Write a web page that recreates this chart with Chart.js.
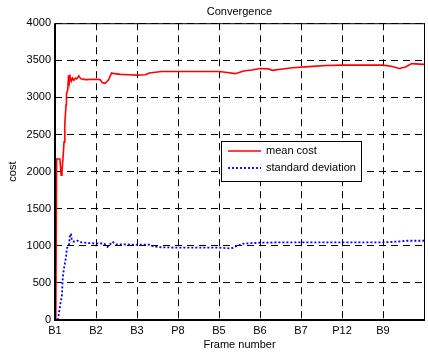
<!DOCTYPE html>
<html>
<head>
<meta charset="utf-8">
<script src="https://cdn.jsdelivr.net/npm/chart.js@4/dist/chart.umd.min.js"></script>
<style>
  html, body { margin: 0; padding: 0; background: #fff; }
  #wrap { width: 428px; height: 354px; }
</style>
</head>
<body>
<div id="wrap"><canvas id="conv"></canvas></div>
<script>
// frame tick labels (one per frame position 0..8)
const frameLabels = ["B1", "B2", "B3", "P8", "B5", "B6", "B7", "P12", "B9"];

// mean cost series
const meanX = [0.02, 0.04, 0.12, 0.15, 0.17, 0.2, 0.22, 0.24, 0.27, 0.28, 0.31, 0.33, 0.35, 0.37, 0.4, 0.43, 0.46, 0.5, 0.53, 0.58, 0.63, 0.75, 1.0, 1.1, 1.15, 1.22, 1.3, 1.38, 1.45, 1.6, 1.8, 2.0, 2.2, 2.3, 2.45, 2.6, 3.0, 3.5, 4.0, 4.2, 4.4, 4.6, 4.8, 5.0, 5.2, 5.3, 5.5, 5.8, 6.2, 6.6, 7.0, 7.5, 8.0, 8.2, 8.4, 8.55, 8.7, 9.0];
const meanY = [0, 2170, 2170, 1950, 2000, 2220, 2400, 2650, 2900, 3050, 3100, 3300, 3200, 3280, 3220, 3260, 3230, 3260, 3250, 3290, 3250, 3240, 3245, 3240, 3200, 3190, 3230, 3330, 3320, 3310, 3305, 3300, 3305, 3330, 3340, 3350, 3350, 3350, 3350, 3335, 3320, 3355, 3370, 3390, 3385, 3365, 3380, 3400, 3415, 3430, 3435, 3435, 3435, 3420, 3390, 3410, 3455, 3445];

// standard deviation series
const stdX = [0.07, 0.12, 0.17, 0.19, 0.22, 0.27, 0.29, 0.34, 0.36, 0.39, 0.41, 0.46, 0.55, 0.65, 0.85, 1.2, 1.28, 1.4, 1.5, 2.0, 2.3, 2.4, 2.6, 3.0, 3.5, 4.0, 4.3, 4.4, 4.6, 5.0, 5.5, 6.0, 7.0, 8.0, 8.3, 8.6, 9.0];
const stdY = [0, 180, 340, 580, 700, 850, 965, 1010, 1120, 1165, 1080, 1055, 1070, 1045, 1035, 1030, 985, 1055, 1020, 1015, 1015, 990, 980, 975, 975, 975, 965, 990, 1030, 1042, 1046, 1046, 1046, 1046, 1055, 1068, 1068];

const yTicks = [0, 500, 1000, 1500, 2000, 2500, 3000, 3500, 4000];

const font = "'Liberation Sans', Arial, Helvetica, sans-serif";
Chart.defaults.font.family = font;
Chart.defaults.font.size = 11;
Chart.defaults.color = "#000";

const toPoints = (xs, ys) => xs.map((x, i) => ({ x: x, y: ys[i] }));

// box round the plot + legend inside the axes, like matlab
const boxAndLegend = {
  id: "boxAndLegend",
  afterDraw(chart) {
    const ctx = chart.ctx;
    const a = chart.chartArea;
    ctx.save();
    ctx.strokeStyle = "#000";
    ctx.lineWidth = 1;
    ctx.strokeRect(a.left + 0.5, a.top + 0.5, a.right - a.left, a.bottom - a.top);
    ctx.lineWidth = 2;
    ctx.beginPath();
    ctx.moveTo(a.left, a.top);
    ctx.lineTo(a.left, a.bottom);
    ctx.lineTo(a.right, a.bottom);
    ctx.stroke();

    // legend
    const lx = 221, ly = 141, lw = 140, lh = 40;
    ctx.fillStyle = "#fff";
    ctx.fillRect(lx, ly, lw, lh);
    ctx.lineWidth = 1;
    ctx.strokeStyle = "#000";
    ctx.strokeRect(lx + 0.5, ly + 0.5, lw, lh);
    ctx.font = "11px " + font;
    ctx.textBaseline = "middle";
    chart.data.datasets.forEach((ds, i) => {
      const y = ly + 10 + i * 17;
      ctx.strokeStyle = ds.borderColor;
      ctx.lineWidth = ds.borderWidth;
      ctx.setLineDash(ds.borderDash || []);
      ctx.beginPath();
      ctx.moveTo(lx + 7, y);
      ctx.lineTo(lx + 40, y);
      ctx.stroke();
      ctx.setLineDash([]);
      ctx.fillStyle = "#000";
      ctx.fillText(ds.label, lx + 45, y);
    });
    ctx.restore();
  }
};

new Chart(document.getElementById("conv").getContext("2d"), {
  type: "line",
  data: {
    datasets: [{
      label: "mean cost",
      data: toPoints(meanX, meanY),
      borderColor: "#ff0000",
      borderWidth: 1.6,
      pointRadius: 0,
      tension: 0
    }, {
      label: "standard deviation",
      data: toPoints(stdX, stdY),
      borderColor: "#0000ff",
      borderWidth: 1.8,
      borderDash: [2, 2],
      pointRadius: 0,
      tension: 0
    }]
  },
  options: {
    responsive: true,
    maintainAspectRatio: false,
    animation: false,
    layout: { padding: { left: 0, right: 0, top: 0, bottom: 0 } },
    plugins: {
      legend: { display: false },
      tooltip: { enabled: false },
      title: {
        display: true,
        text: "Convergence",
        fullSize: false,
        font: { size: 11, weight: "normal" },
        padding: { top: 5, bottom: 5 }
      }
    },
    scales: {
      x: {
        type: "linear",
        min: 0,
        max: 9,
        afterBuildTicks(scale) {
          scale.ticks = frameLabels.map((l, i) => ({ value: i })).concat([{ value: 9 }]);
        },
        afterFit(scale) { scale.height = 34; },
        ticks: {
          padding: 4,
          maxRotation: 0,
          autoSkip: false,
          callback: (v) => frameLabels[v] || ""
        },
        grid: { color: "#000", lineWidth: 1, drawTicks: false },
        border: { display: false, dash: [7, 5] },
        title: {
          display: true,
          text: "Frame number",
          font: { size: 11 },
          padding: { top: 0, bottom: 2 }
        }
      },
      y: {
        min: 0,
        max: 4000,
        afterBuildTicks(scale) {
          scale.ticks = yTicks.map((v) => ({ value: v }));
        },
        afterFit(scale) { scale.width = 55; },
        ticks: { padding: 4, callback: (v) => String(v) },
        grid: { color: "#000", lineWidth: 1, drawTicks: false },
        border: { display: false, dash: [7, 5] },
        title: {
          display: true,
          text: "cost",
          font: { size: 11 },
          padding: { top: 6, bottom: 0 }
        }
      }
    }
  },
  plugins: [boxAndLegend]
});
</script>
</body>
</html>
